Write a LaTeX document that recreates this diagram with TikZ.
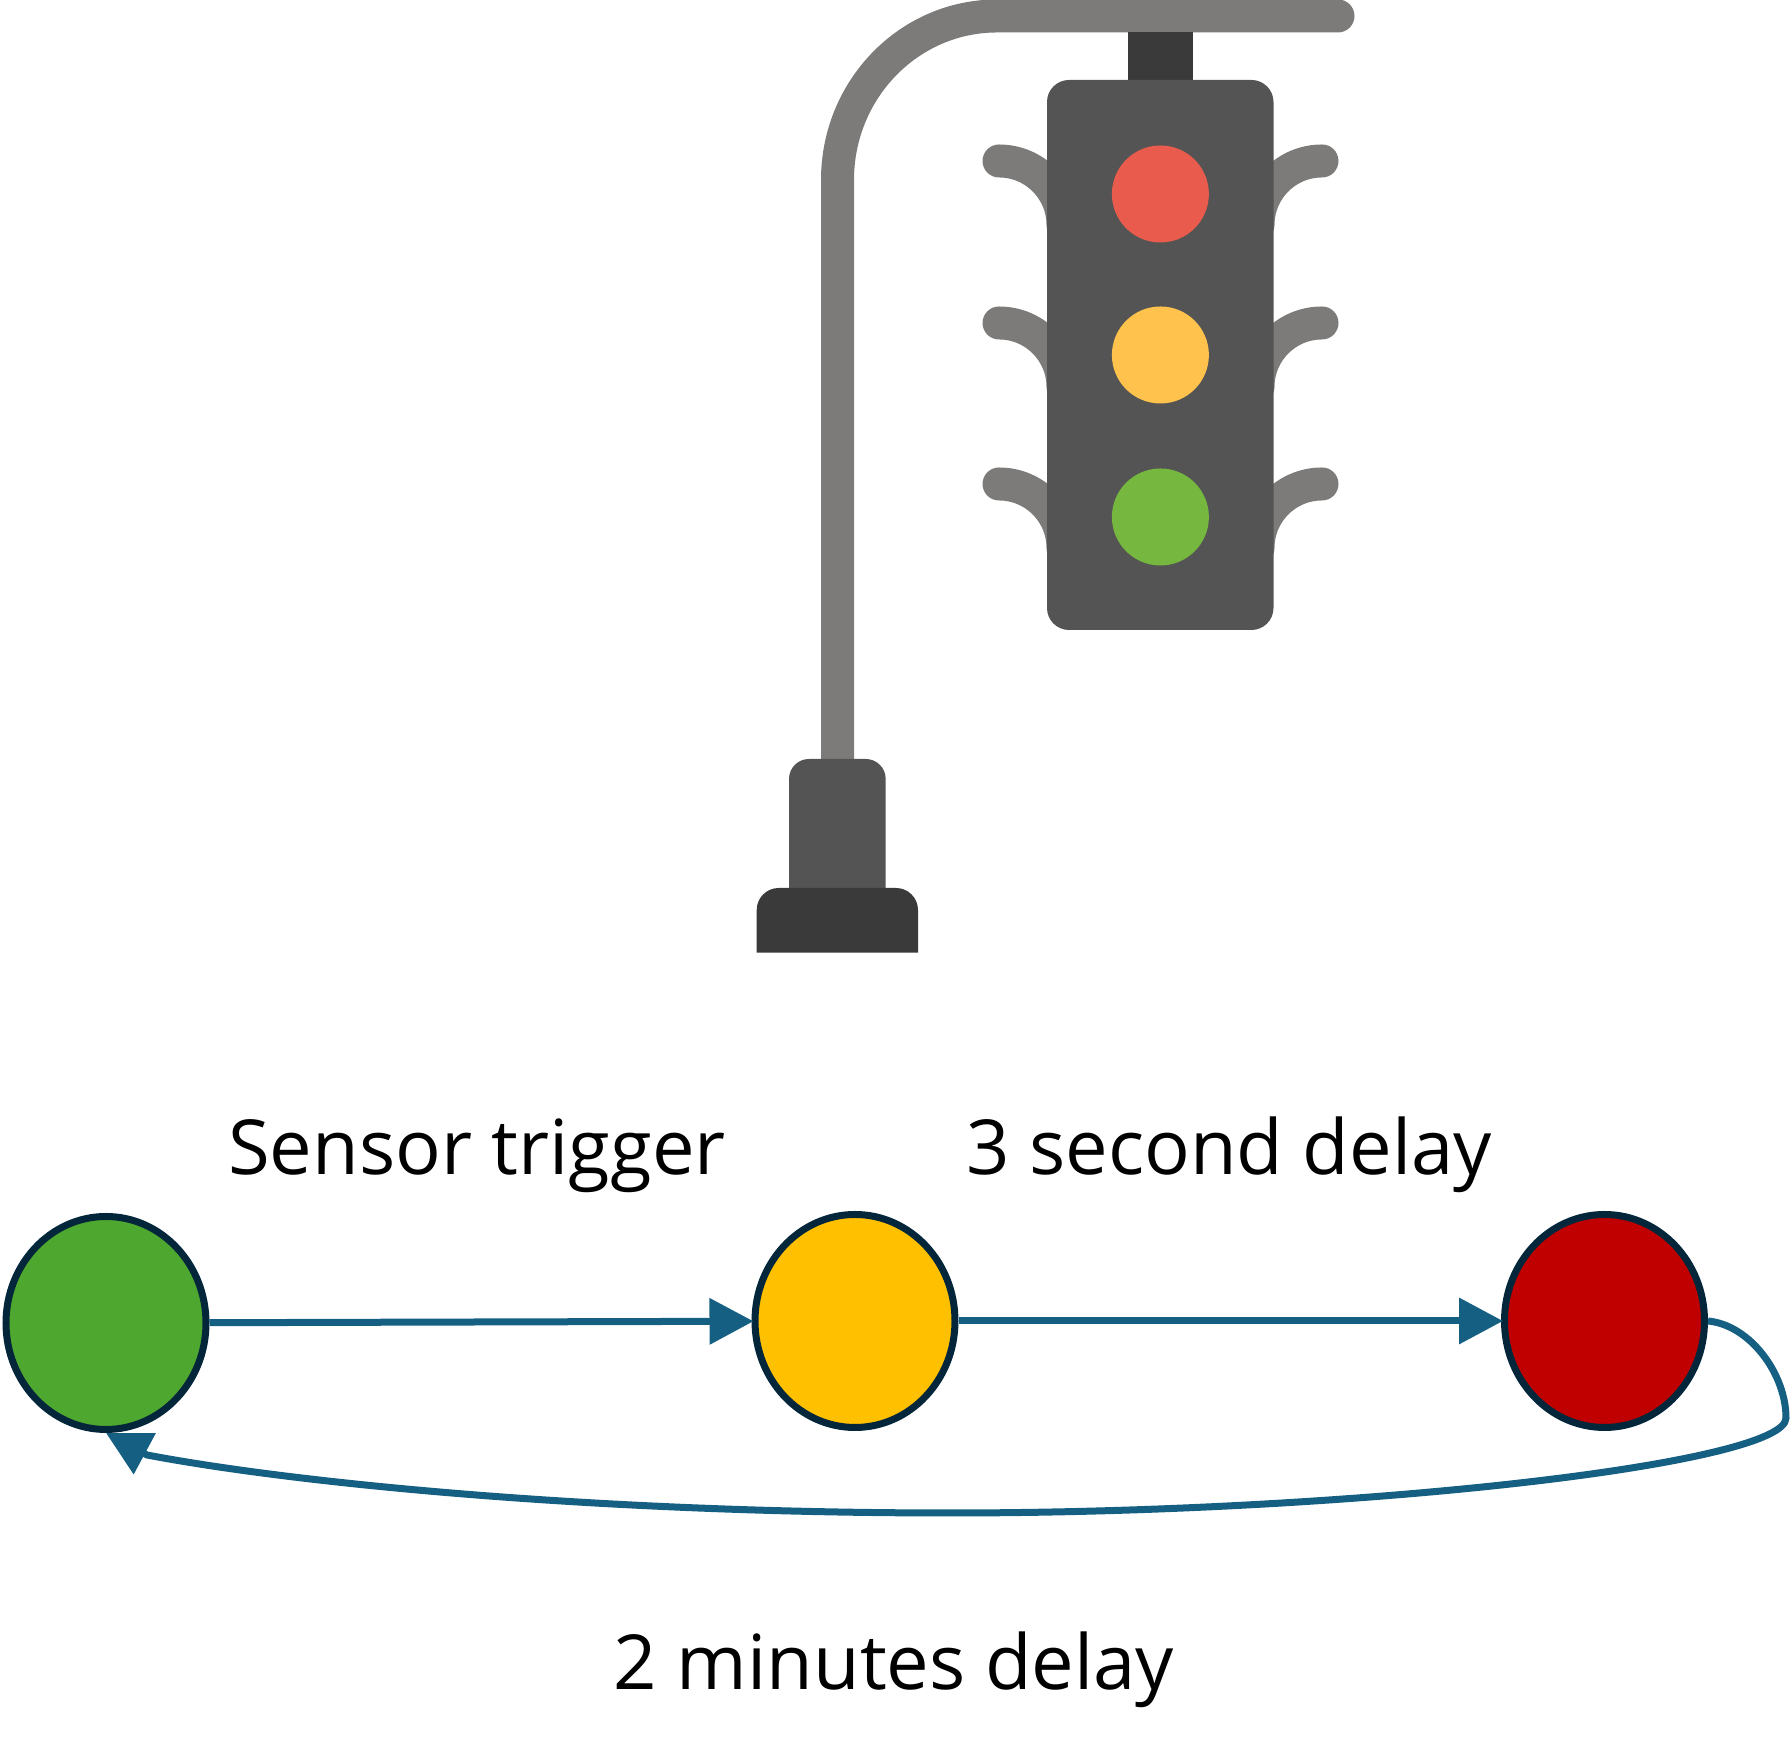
\documentclass[tikz,border=0pt]{standalone}
\usepackage{fontspec}
\setmainfont{Open Sans}
\usetikzlibrary{arrows.meta,shapes.geometric}
\definecolor{polegray}{HTML}{7C7B79}
\definecolor{boxgray}{HTML}{545454}
\definecolor{footgray}{HTML}{3A3A3A}
\definecolor{lampred}{HTML}{E95B4C}
\definecolor{lampyellow}{HTML}{FFC34D}
\definecolor{lampgreen}{HTML}{76B83F}
\definecolor{stategreen}{HTML}{4EA72E}
\definecolor{stateyellow}{HTML}{FFC000}
\definecolor{statered}{HTML}{C00000}
\definecolor{stateline}{HTML}{04263A}
\definecolor{linkblue}{HTML}{156082}
\tikzset{
  state/.style={ellipse,draw=stateline,line width=0.07cm,minimum width=2cm,minimum height=2.13cm,inner sep=0pt},
  link/.style={linkblue,line width=0.07cm,-{Triangle[length=0.44cm,width=0.45cm]}},
  ear/.style={polegray,line width=0.33cm,line cap=round},
  caption/.style={anchor=base,font=\fontsize{21.6}{26}\selectfont}
}

\begin{document}
\begin{tikzpicture}
\useasboundingbox (0,0) rectangle (17.92,17.64);
\draw [polegray,line width=0.33cm,line cap=round] (8.375,10.05) -- (8.375,15.84) arc (180:90:1.595 and 1.64) -- (13.38,17.48);
\fill [footgray] (11.28,16.8) rectangle (11.93,17.32);
\draw [ear] (9.99,16.03) arc (90:0:0.64);
\draw [ear] (9.99,14.41) arc (90:0:0.64);
\draw [ear] (9.99,12.80) arc (90:0:0.64);
\draw [ear] (13.22,16.03) arc (90:180:0.64);
\draw [ear] (13.22,14.41) arc (90:180:0.64);
\draw [ear] (13.22,12.80) arc (90:180:0.64);
\fill [boxgray,rounded corners=0.22cm] (10.47,11.34) rectangle (12.735,16.84);
\fill [lampred] (11.604,15.70) circle (0.485);
\fill [lampyellow] (11.604,14.09) circle (0.485);
\fill [lampgreen] (11.604,12.47) circle (0.485);
\fill [boxgray,rounded corners=0.2cm] (7.89,8.7) -- (7.89,10.05) -- (8.857,10.05) -- (8.857,8.7);
\fill [footgray,rounded corners=0.22cm] (7.567,8.113) -- (7.567,8.76) -- (9.18,8.76) -- (9.18,8.113);

\node[state,fill=stategreen] (green) at (1.06,4.41) {};
\node[state,fill=stateyellow] (yellow) at (8.55,4.43) {};
\node[state,fill=statered] (red) at (16.045,4.43) {};
\coordinate (turn) at (17.86,3.46);
\coordinate (low) at (9.5,2.51);
\coordinate (tipbase) at (1.47,3.09);
\draw [link,shorten >=-0.02cm] (green) -- (yellow);
\draw [link,shorten >=-0.02cm] (yellow) -- (red);
\draw [link] (red.east) .. controls (17.5,4.39) and (17.86,3.9) .. (turn) .. controls (17.86,3) and (13.6,2.51) .. (low) .. controls (6,2.51) and (3,2.8) .. (tipbase) -- (green.south);
\node[caption] (trigger) at (4.77,5.89) {Sensor trigger};
\node[caption] (second) at (12.29,5.89) {3 second delay};
\node[caption] (minutes) at (8.94,0.74) {2 minutes delay};
\end{tikzpicture}
\end{document}
